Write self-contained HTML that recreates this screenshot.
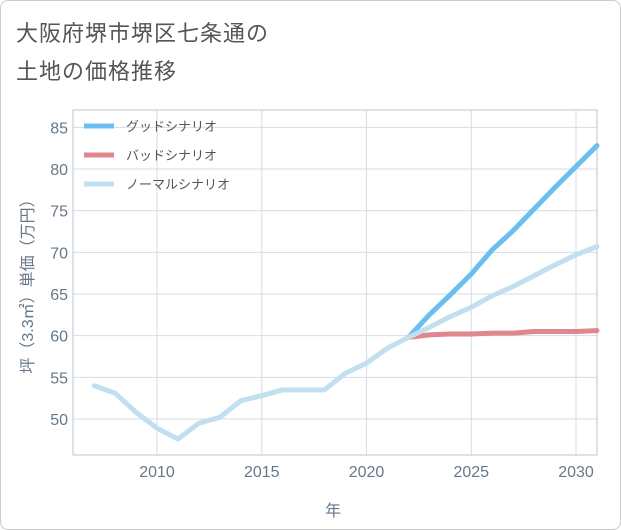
<!DOCTYPE html>
<html><head><meta charset="utf-8"><style>
body{margin:0;background:#fff;}
#wrap{position:relative;width:621px;height:530px;font-family:"Liberation Sans","Noto Sans CJK JP",sans-serif;}
#card{position:absolute;left:0;top:0;width:619px;height:528px;border:1px solid #ccc;border-radius:8px;background:#fff;}
.title{position:absolute;left:16px;font-size:22px;color:#555;letter-spacing:1px;}
</style></head><body>
<div id="wrap">
<div id="card"></div>
<div class="title" style="top:16px">大阪府堺市堺区七条通の</div>
<div class="title" style="top:54px">土地の価格推移</div>
<svg id="chart" width="621" height="530" style="position:absolute;left:0;top:0"></svg>
</div>
<script>
const years=[2007,2008,2009,2010,2011,2012,2013,2014,2015,2016,2017,2018,2019,2020,2021,2022,2023,2024,2025,2026,2027,2028,2029,2030,2031];
const normalVals=[54,53.1,50.8,48.9,47.6,49.5,50.2,52.2,52.8,53.5,53.5,53.5,55.5,56.7,58.5,59.8,61,62.3,63.4,64.8,65.9,67.2,68.5,69.7,70.7];
const goodYears=[2022,2023,2024,2025,2026,2027,2028,2029,2030,2031];
const goodVals=[59.8,62.5,64.9,67.4,70.3,72.6,75.2,77.8,80.3,82.8];
const badVals=[59.8,60.1,60.2,60.2,60.3,60.3,60.5,60.5,60.5,60.6];
const xTicks=[2010,2015,2020,2025,2030];
const yTicks=[50,55,60,65,70,75,80,85];
const seriesNames=["グッドシナリオ","バッドシナリオ","ノーマルシナリオ"];
const NS="http://www.w3.org/2000/svg";
const svg=document.getElementById('chart');
const L=73,R=597,T=110,B=455;
const x=v=>157+(v-2010)*(576-157)/20;
const y=v=>419-(v-50)*(419-169)/30;
function el(t,a,p){const e=document.createElementNS(NS,t);for(const k in a)e.setAttribute(k,a[k]);(p||svg).appendChild(e);return e;}
const g=el('g',{});


xTicks.forEach(t=>{el('line',{x1:x(t),x2:x(t),y1:T,y2:B,stroke:'#d5dde6'},g);
const tx=el('text',{x:x(t),y:B+22,'text-anchor':'middle','font-size':'16',fill:'#66778a'});tx.textContent=t;

});
yTicks.forEach(t=>{el('line',{x1:L,x2:R,y1:y(t),y2:y(t),stroke:'#d5dde6'},g);
const tx=el('text',{x:L-5,y:y(t)+6,'text-anchor':'end','font-size':'16',fill:'#66778a'});tx.textContent=t;

});
const fr=el('rect',{x:L,y:T,width:R-L,height:B-T,fill:'none',stroke:'#b8c4d0'});


function line(xs,vs,c,name){const p=el('polyline',{points:xs.map((v,i)=>x(v)+','+y(vs[i])).join(' '),fill:'none',stroke:c,'stroke-width':5,'stroke-linejoin':'round','stroke-linecap':'round'});

}
line(goodYears,goodVals,'#6bbdf2','good-scenario-line');
line(goodYears,badVals,'#e0868e','bad-scenario-line');
line(years,normalVals,'#c2dff0','normal-scenario-line');
const cols=['#6bbdf2','#e0868e','#c2dff0'];
seriesNames.forEach((n,i)=>{const yy=126+i*29;
const lg=el('g',{});


el('line',{x1:84,x2:114,y1:yy,y2:yy,stroke:cols[i],'stroke-width':5},lg);
const t=el('text',{x:126,y:yy+5,'font-size':'13',fill:'#555'},lg);t.textContent=n;});
const xt=el('text',{x:333,y:516,'text-anchor':'middle','font-size':'16',fill:'#66778a'});xt.textContent='年';


const yt=el('text',{x:0,y:0,'text-anchor':'middle','font-size':'16',fill:'#66778a',transform:'translate(33,'+((T+B)/2)+') rotate(-90)'});yt.textContent='坪（3.3㎡）単価（万円）';


</script>
</body></html>
